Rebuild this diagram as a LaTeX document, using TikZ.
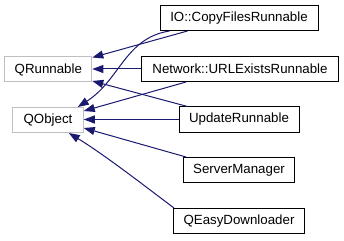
\documentclass[tikz,border=0pt]{standalone}
\usepackage{fontspec}
\setmainfont{Liberation Sans}
\usetikzlibrary{arrows.meta}
\definecolor{midnightblue}{RGB}{25,25,112}
\definecolor{grey75}{RGB}{191,191,191}
\tikzset{
  cls/.style={draw, line width=1pt, minimum height=25pt, inner sep=0pt,
    font=\fontsize{13.3}{15}\selectfont, fill=white},
  ext/.style={cls, draw=grey75},
  own/.style={cls, draw=black},
  inherit/.style={draw=midnightblue, line width=1pt,
    -{Triangle[length=11pt,width=8pt]}, fill=none},
}
\begin{document}
\begin{tikzpicture}[x=1pt,y=-1pt]
  \useasboundingbox (0,0) rectangle (344,240);

  % base classes
  \node[ext, minimum width=87pt]   (QRunnable) at (48.3,69.5) {QRunnable};
  \node[ext, minimum width=70.5pt] (QObject)   at (48,120)    {QObject};

  % derived classes
  \node[own, minimum width=158pt] (IOCopy)  at (239,18)    {IO::CopyFilesRunnable};
  \node[own, minimum width=197pt] (URLExists) at (240,69)  {Network::URLExistsRunnable};
  \node[own, minimum width=120pt] (Update)  at (239,119.5) {UpdateRunnable};
  \node[own, minimum width=111pt] (Server)  at (239,170)   {ServerManager};
  \node[own, minimum width=131pt] (Easy)    at (239,221)   {QEasyDownloader};

  % inheritance edges
  \draw[inherit] ([xshift=28pt]IOCopy.south west) -- ([yshift=-1pt]QRunnable.north east);
  \draw[inherit] ([xshift=10pt]IOCopy.south west)
      .. controls (125,38) and (120,80) .. ([xshift=-6pt]QObject.north east);
  \draw[inherit] (URLExists.west) -- (URLExists.west -| QRunnable.east);
  \draw[inherit] ([xshift=45pt]URLExists.south west) -- ([yshift=-4pt]QObject.north east);
  \draw[inherit] ([xshift=9pt]Update.north west) -- ([yshift=1.5pt]QRunnable.south east);
  \draw[inherit] (Update.west) -- (Update.west -| QObject.east);
  \draw[inherit] ([xshift=3pt]Server.north west) -- ([yshift=5pt]QObject.south east);
  \draw[inherit] ([xshift=1pt]Easy.north west)
      .. controls (150,190) and (105,155) .. ([xshift=-15pt]QObject.south east);
\end{tikzpicture}
\end{document}
